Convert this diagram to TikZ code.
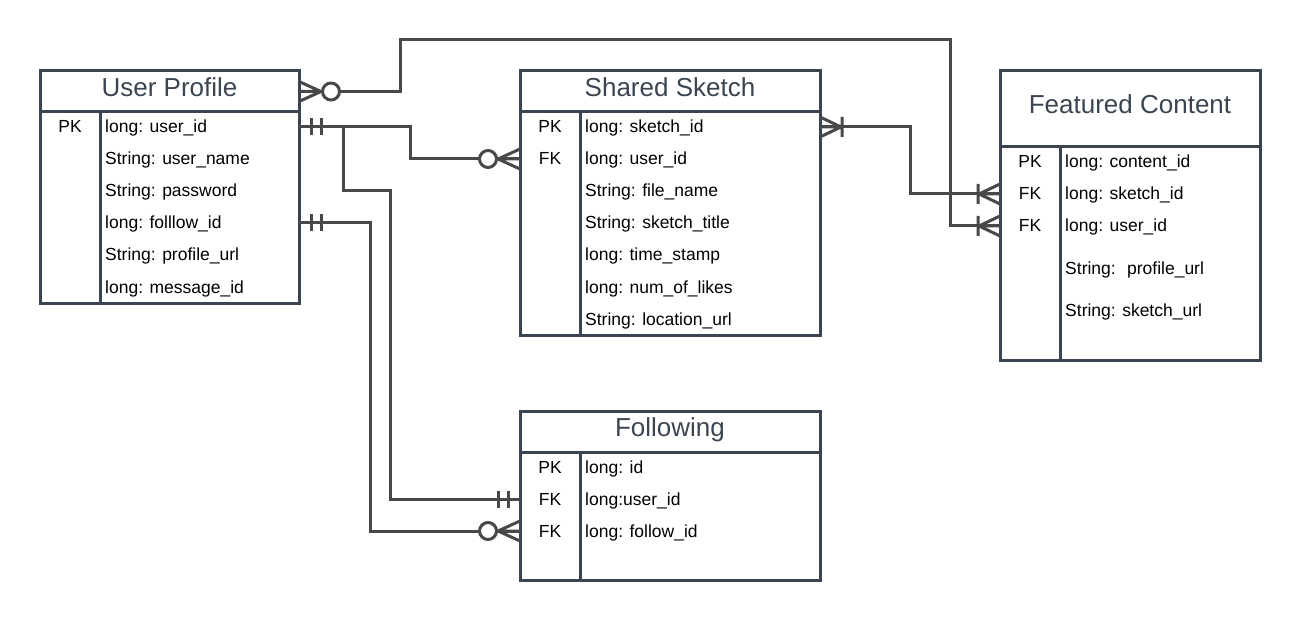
\documentclass[tikz,border=0pt]{standalone}
\usepackage{fontspec}
\setmainfont{Liberation Sans}
\usetikzlibrary{positioning}
\definecolor{boxline}{HTML}{3B4552}
\definecolor{linkline}{HTML}{484848}

\begin{document}
\begin{tikzpicture}[x=1pt,y=-1pt,
			title node/.style={draw=boxline,line width=3pt,outer sep=0pt,inner sep=0pt,text=boxline,
				font=\fontsize{26}{30}\selectfont,text height=19pt,text depth=9pt},
			body node/.style={draw=boxline,line width=3pt,outer sep=0pt,inner sep=0pt},
			field node/.style={anchor=west,inner sep=0pt,font=\fontsize{17.5}{20}\selectfont,text height=12pt,text depth=0pt},
			key node/.style={inner sep=0pt,font=\fontsize{17.5}{20}\selectfont,text height=12pt,text depth=0pt},
			divider/.style={draw=boxline,line width=3pt},
			link/.style={draw=linkline,line width=3pt},
			one only/.pic={\draw[link] (12,-8.5) -- (12,8.5) (22,-8.5) -- (22,8.5);},
			zero many/.pic={
				\draw[link] (0,-10) -- (22,0) (0,10) -- (22,0) (0,0) -- (22,0);
				\draw[link,fill=white] (32,0) circle[radius=8.5pt];},
			one many/.pic={
				\draw[link] (0,-10) -- (21,0) (0,10) -- (21,0) (0,0) -- (21,0) (22,-10) -- (22,10);}
			]

			\def \keyw {60};
			\def \gap {32};

			\useasboundingbox (0,0) rectangle (1300,620);

			% User Profile
			\node[title node,minimum width=259pt,minimum height=41pt,anchor=north west] at (40,71) (uptitle) {User Profile};
			\node[body node,minimum width=259pt,minimum height=191pt,below=0pt of uptitle] (upbody) {};
			\draw[divider] ([xshift=\keyw pt]upbody.north west) -- ([xshift=\keyw pt]upbody.south west);
			\foreach \k/\f [count=\i from 0] in {PK/long: user\_id, /String: user\_name, /String: password,
					/long: folllow\_id, /String: profile\_url, /long: message\_id}{
				\node[key node] at (70,127+\gap*\i) (upk\i) {\k};
				\node[field node] at (105,127+\gap*\i) (up\i) {\f};
			}

			% Shared Sketch
			\node[title node,minimum width=300pt,minimum height=41pt,anchor=north west] at (520,71) (sstitle) {Shared Sketch};
			\node[body node,minimum width=300pt,minimum height=223pt,below=0pt of sstitle] (ssbody) {};
			\draw[divider] ([xshift=\keyw pt]ssbody.north west) -- ([xshift=\keyw pt]ssbody.south west);
			\foreach \k/\f [count=\i from 0] in {PK/long: sketch\_id, FK/long: user\_id, /String: file\_name,
					/String: sketch\_title, /long: time\_stamp, /long: num\_of\_likes, /String: location\_url}{
				\node[key node] at (550,127+\gap*\i) (ssk\i) {\k};
				\node[field node] at (585,127+\gap*\i) (ss\i) {\f};
			}

			% Featured Content
			\node[title node,minimum width=260pt,minimum height=76pt,anchor=north west] at (1000,71) (fctitle) {Featured Content};
			\node[body node,minimum width=260pt,minimum height=213pt,below=0pt of fctitle] (fcbody) {};
			\draw[divider] ([xshift=\keyw pt]fcbody.north west) -- ([xshift=\keyw pt]fcbody.south west);
			\foreach \k/\f/\y [count=\i from 0] in {PK/long: content\_id/162, FK/long: sketch\_id/194,
					FK/long: user\_id/226, /String: \ profile\_url/268, /String: sketch\_url/310}{
				\node[key node] at (1030,\y) (fck\i) {\k};
				\node[field node] at (1065,\y) (fc\i) {\f};
			}

			% Following
			\node[title node,minimum width=300pt,minimum height=41pt,anchor=north west] at (520,411) (fltitle) {Following};
			\node[body node,minimum width=300pt,minimum height=128pt,below=0pt of fltitle] (flbody) {};
			\draw[divider] ([xshift=\keyw pt]flbody.north west) -- ([xshift=\keyw pt]flbody.south west);
			\foreach \k/\f [count=\i from 0] in {PK/long: id, FK/long:user\_id, FK/long: follow\_id}{
				\node[key node] at (550,467+\gap*\i) (flk\i) {\k};
				\node[field node] at (585,467+\gap*\i) (fl\i) {\f};
			}

			% relations
			\coordinate (topturn) at (950,40);
			\coordinate (upport) at (upbody.east |- up0);

			\draw[link] (uptitle.east) -- ++(101,0) |- (topturn) |- (fcbody.west |- fc2);
			\draw[link] (upport) -- ++(111,0) |- (ssbody.west |- ss1);
			\draw[link] ([xshift=44pt]upport) -- ++(0,64) -- ++(47,0) |- (flbody.west |- fl1);
			\draw[link] (upbody.east |- up3) -- ++(71,0) |- (flbody.west |- fl2);
			\draw[link] (ssbody.east |- ss0) -- ++(90,0) |- (fcbody.west |- fc1);

			\pic at (uptitle.east) {zero many};
			\pic[rotate=180] at (fcbody.west |- fc2) {one many};
			\pic at (upport) {one only};
			\pic[rotate=180] at (ssbody.west |- ss1) {zero many};
			\pic[rotate=180] at (flbody.west |- fl1) {one only};
			\pic at (upbody.east |- up3) {one only};
			\pic[rotate=180] at (flbody.west |- fl2) {zero many};
			\pic at (ssbody.east |- ss0) {one many};
			\pic[rotate=180] at (fcbody.west |- fc1) {one many};
		\end{tikzpicture}
\end{document}
